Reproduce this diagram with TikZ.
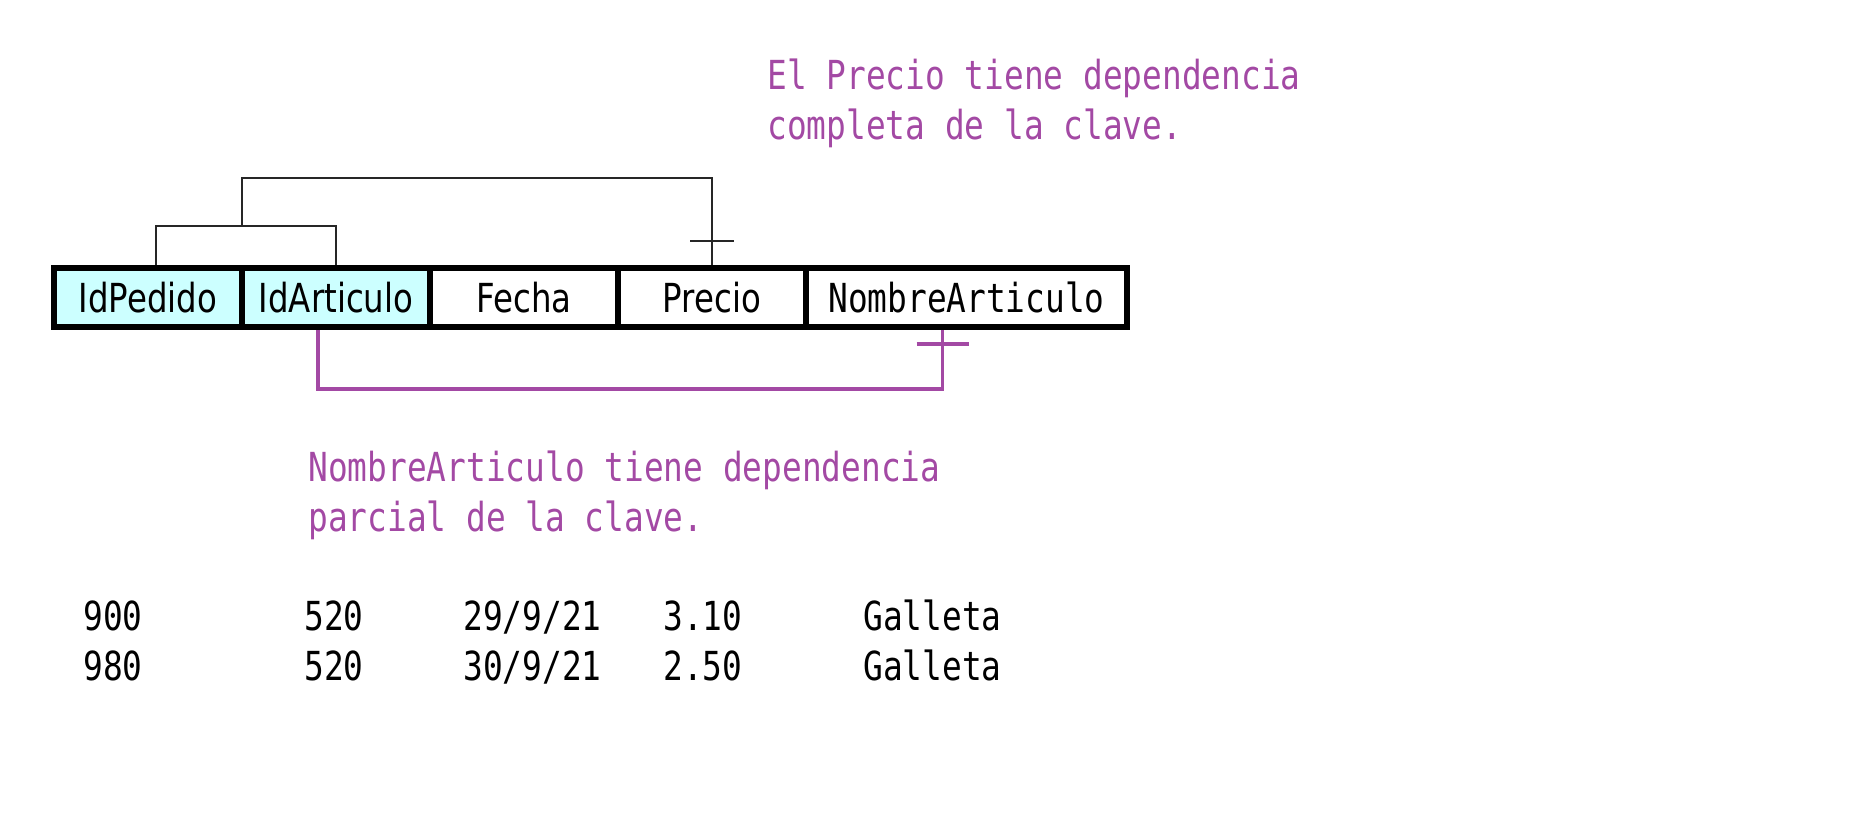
\documentclass[tikz,border=0pt]{standalone}
\usepackage{fontspec}
\usetikzlibrary{positioning}
\newfontfamily\notefont[FakeStretch=0.82]{DejaVu Sans Mono}
\newfontfamily\cellfont[FakeStretch=0.81]{DejaVu Sans}
\definecolor{notepurple}{HTML}{A349A4}
\definecolor{keycyan}{HTML}{CCFFFF}
\tikzset{
	cell/.style={draw,line width=3pt,outer sep=0pt,inner sep=0pt,minimum width=94pt,minimum height=29.5pt,text height=14.5pt,text depth=0pt,font=\cellfont\fontsize{20pt}{25pt}\selectfont},
	keycell/.style={cell,fill=keycyan},
	mono/.style={inner sep=0pt,font=\notefont\fontsize{20pt}{25pt}\selectfont},
	note/.style={mono,text=notepurple,align=left,anchor=base west},
	datum/.style={mono,anchor=base west},
	keyline/.style={draw=black!85,line width=1pt},
	partline/.style={draw=notepurple,line width=1.75pt}
}
\begin{document}
\begin{tikzpicture}[x=.5pt,y=.5pt]
	\useasboundingbox(0,0)rectangle(1873,-840);
	\node[keycell,anchor=north west](ped)at(54,-268){IdPedido};
	\node[keycell,right=0pt of ped](art){IdArticulo};
	\node[cell,right=0pt of art](fec){Fecha};
	\node[cell,right=0pt of fec](pre){Precio};
	\node[cell,right=0pt of pre,minimum width=160.5pt,font=\notefont\fontsize{20pt}{25pt}\selectfont](nom){NombreArticulo};
	\draw[keyline]([shift={(4pt,1.5pt)}]ped.north)|-([yshift=21pt]art.north)coordinate(kk)--([yshift=1.5pt]art.north);
	\coordinate(kj)at(ped.east|-kk);
	\draw[keyline](kj)|-([yshift=45pt]pre.north)--([yshift=1.5pt]pre.north);
	\draw[keyline]([shift={(-11pt,13.5pt)}]pre.north)--+(22pt,0);
	\draw[partline]([shift={(-9pt,-1.5pt)}]art.south)|-([shift={(-12pt,-31pt)}]nom.south)--([shift={(-12pt,-1.5pt)}]nom.south);
	\draw[partline]([shift={(-25pt,-8.5pt)}]nom.south)--+(26pt,0);
	\node[note](pr)at(767,-140){El Precio tiene dependencia\\completa de la clave.};
	\node[note](na)at(308,-531){NombreArticulo tiene dependencia\\parcial de la clave.};
	\node[datum](a1)at(83,-630){900};
	\node[datum](b1)at(304,-630){520};
	\node[datum](c1)at(463,-630){29/9/21};
	\node[datum](d1)at(663,-630){3.10};
	\node[datum](e1)at(863,-630){Galleta};
	\node[datum](a2)at(83,-680){980};
	\node[datum](b2)at(304,-680){520};
	\node[datum](c2)at(463,-680){30/9/21};
	\node[datum](d2)at(663,-680){2.50};
	\node[datum](e2)at(863,-680){Galleta};
\end{tikzpicture}
\end{document}
